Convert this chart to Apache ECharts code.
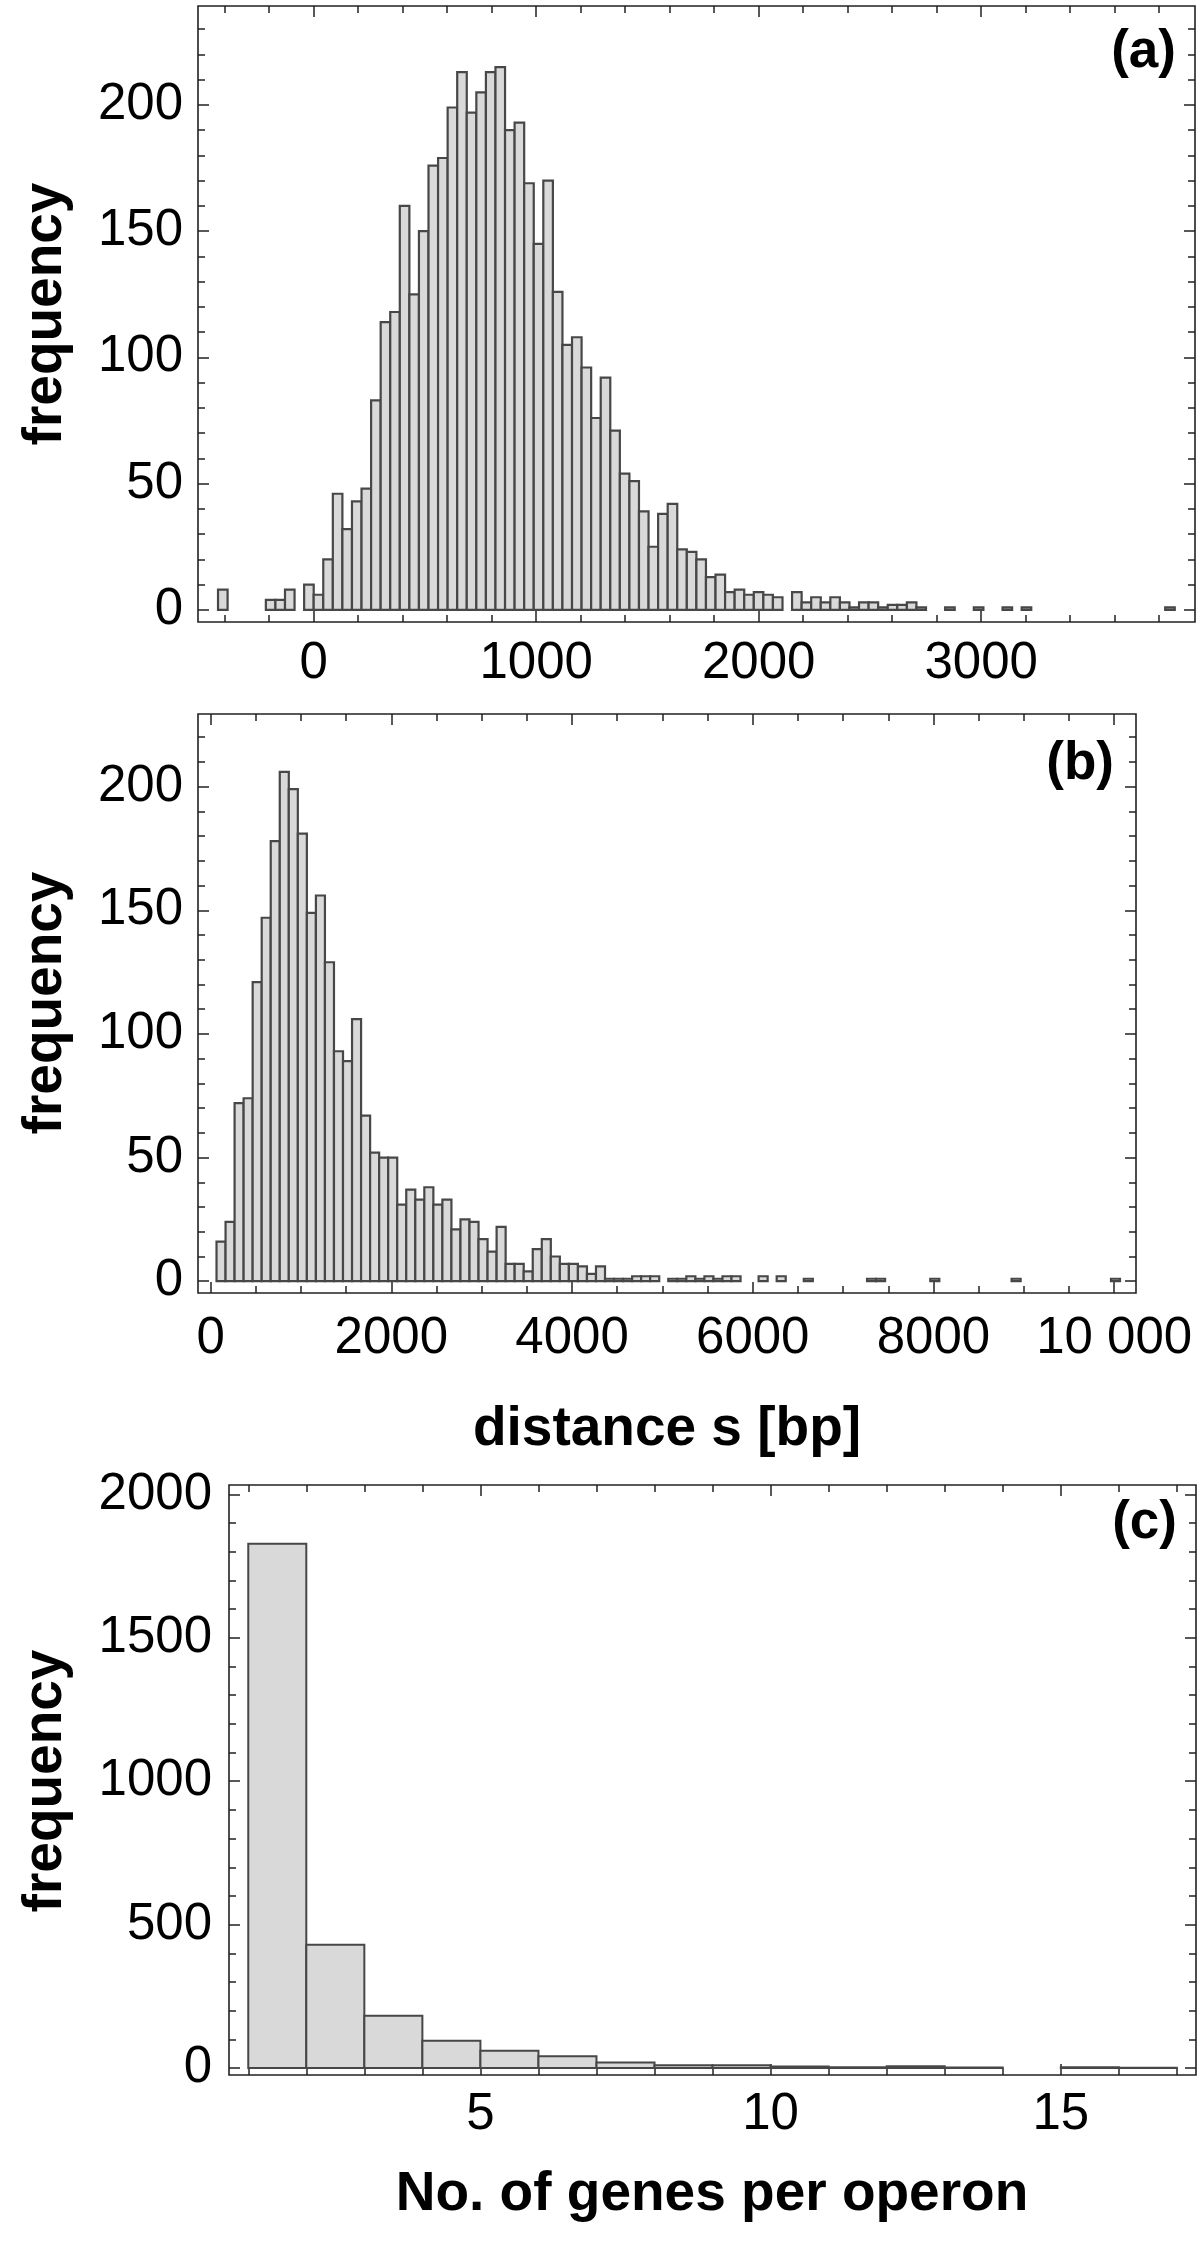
<!DOCTYPE html>
<html><head><meta charset="utf-8">
<script src="https://cdn.jsdelivr.net/npm/echarts@6/dist/echarts.min.js"></script>
<style>html,body{margin:0;padding:0;background:#fff}#c{width:1200px;height:2247px}</style>
</head><body><div id="c"></div>
<script>
// ---------- Panel (a): histogram, bin width 43, first bin starts at -430 ----------
const binStartA = -430;
const binWidthA = 43;
const countsA = [
  8, 0, 0, 0, 0, 4, 4, 8, 0, 10,
  6, 20, 46, 32, 43, 48, 83, 114, 118, 160,
  125, 150, 176, 179, 199, 213, 197, 205, 213, 215,
  190, 193, 169, 145, 170, 126, 105, 108, 96, 76,
  92, 71, 54, 51, 39, 25, 38, 42, 24, 23,
  20, 13, 14, 7, 8, 6, 7, 6, 5, 0,
  7, 3, 5, 3, 5, 3, 1, 3, 3, 1,
  2, 2, 3, 1, 0, 0, 1, 0, 0, 1,
  0, 0, 1, 0, 1, 0, 0, 0, 0, 0,
  0, 0, 0, 0, 0, 0, 0, 0, 0, 1
];
const xMajorA = [0, 1000, 2000, 3000];
const xMinorA = [-400, -200, 200, 400, 600, 800, 1200, 1400, 1600, 1800, 2200, 2400, 2600, 2800, 3200, 3400, 3600, 3800];
const yMajorA = [0, 50, 100, 150, 200];
const yMinorA = [10, 20, 30, 40, 60, 70, 80, 90, 110, 120, 130, 140, 160, 170, 180, 190, 210, 220, 230];

// ---------- Panel (b): histogram, bin width 100, first bin starts at 65 ----------
const binStartB = 65;
const binWidthB = 100;
const countsB = [
  16, 24, 72, 74, 121, 147, 178, 206, 199, 181,
  149, 156, 129, 93, 89, 106, 67, 52, 50, 50,
  31, 37, 33, 38, 31, 33, 21, 25, 24, 17,
  12, 22, 7, 7, 4, 13, 17, 10, 7, 7,
  6, 3, 6, 1, 1, 1, 2, 2, 2, 0,
  1, 1, 2, 1, 2, 1, 2, 2, 0, 0,
  2, 0, 2, 0, 0, 1, 0, 0, 0, 0,
  0, 0, 1, 1, 0, 0, 0, 0, 0, 1,
  0, 0, 0, 0, 0, 0, 0, 0, 1, 0,
  0, 0, 0, 0, 0, 0, 0, 0, 0, 1
];
const xMajorB = [0, 2000, 4000, 6000, 8000, 10000];
const xMinorB = [500, 1000, 1500, 2500, 3000, 3500, 4500, 5000, 5500, 6500, 7000, 7500, 8500, 9000, 9500];
const yMajorB = [0, 50, 100, 150, 200];
const yMinorB = [10, 20, 30, 40, 60, 70, 80, 90, 110, 120, 130, 140, 160, 170, 180, 190, 210, 220];

// ---------- Panel (c): genes per operon, bin width 1 starting at 1 ----------
const binStartC = 1;
const binWidthC = 1;
const countsC = [1828, 430, 182, 95, 60, 41, 19, 10, 10, 5, 3, 6, 2, 0, 3, 1];
const xMajorC = [5, 10, 15];
const xMinorC = [1, 2, 3, 4, 6, 7, 8, 9, 11, 12, 13, 14, 16, 17];
const yMajorC = [0, 500, 1000, 1500, 2000];
const yMinorC = [100, 200, 300, 400, 600, 700, 800, 900, 1100, 1200, 1300, 1400, 1600, 1700, 1800, 1900];

// ---------- texts ----------
const yTitle = 'frequency';
const xTitleB = 'distance s [bp]';
const xTitleC = 'No. of genes per operon';
const panelLabels = ['(a)', '(b)', '(c)'];

const FONT = '"Liberation Sans", Arial, Helvetica, sans-serif';
const TICK = '#222';
const plain = v => String(v);

function bins(start, width, counts) {
  const out = [];
  counts.forEach((c, i) => {
    if (c > 0) out.push([start + i * width, start + (i + 1) * width, c]);
  });
  return out;
}

function tk(vals, len) {
  return { show: true, inside: true, length: len, customValues: vals, lineStyle: { color: TICK, width: 1.5 } };
}
function xAxesFor(g, min, max, major, minor, margin, fmt) {
  const base = { type: 'value', gridIndex: g, min: min, max: max, axisLine: { show: false, onZero: false }, splitLine: { show: false } };
  return [
    Object.assign({}, base, { position: 'bottom', axisTick: tk(major, 11),
      axisLabel: { show: true, customValues: major, margin: margin, fontSize: 51, color: '#000', fontFamily: FONT, formatter: fmt || plain } }),
    Object.assign({}, base, { position: 'bottom', axisTick: tk(minor, 7), axisLabel: { show: false } }),
    Object.assign({}, base, { position: 'top', axisTick: tk(major, 11), axisLabel: { show: false } }),
    Object.assign({}, base, { position: 'top', axisTick: tk(minor, 7), axisLabel: { show: false } })
  ];
}
function yAxesFor(g, min, max, major, minor, margin) {
  const base = { type: 'value', gridIndex: g, min: min, max: max, axisLine: { show: false, onZero: false }, splitLine: { show: false } };
  return [
    Object.assign({}, base, { position: 'left', axisTick: tk(major, 11),
      axisLabel: { show: true, customValues: major, margin: margin, fontSize: 51, color: '#000', fontFamily: FONT, formatter: plain } }),
    Object.assign({}, base, { position: 'left', axisTick: tk(minor, 7), axisLabel: { show: false } }),
    Object.assign({}, base, { position: 'right', axisTick: tk(major, 11), axisLabel: { show: false } }),
    Object.assign({}, base, { position: 'right', axisTick: tk(minor, 7), axisLabel: { show: false } })
  ];
}

function histSeries(idx, data, lw) {
  return {
    type: 'custom', xAxisIndex: idx * 4, yAxisIndex: idx * 4, data: data,
    encode: { x: [0, 1], y: 2 }, silent: true, animation: false,
    renderItem: function (params, api) {
      const x0 = api.value(0), x1 = api.value(1), c = api.value(2);
      const p0 = api.coord([x0, 0]);
      const p1 = api.coord([x1, c]);
      return {
        type: 'rect',
        shape: { x: p0[0], y: p1[1], width: p1[0] - p0[0], height: p0[1] - p1[1] },
        style: { fill: '#d9d9d9', stroke: '#474747', lineWidth: lw }
      };
    }
  };
}

const gridStyle = { show: true, borderColor: '#222', borderWidth: 1.6, backgroundColor: 'transparent', containLabel: false };

const option = {
  animation: false,
  backgroundColor: '#fff',
  grid: [
    Object.assign({ left: 198, top: 6, width: 997, height: 616 }, gridStyle),
    Object.assign({ left: 198, top: 714, width: 938, height: 579 }, gridStyle),
    Object.assign({ left: 229, top: 1485, width: 967, height: 590 }, gridStyle)
  ],
  xAxis: [].concat(
    xAxesFor(0, -520, 3961, xMajorA, xMinorA, 16),
    xAxesFor(1, -140, 10242, xMajorB, xMinorB, 20, v => (v === 10000 ? '10 000' : String(v))),
    xAxesFor(2, 0.668, 17.33, xMajorC, xMinorC, 14)
  ),
  yAxis: [].concat(
    yAxesFor(0, -4.8, 239.2, yMajorA, yMinorA, 15),
    yAxesFor(1, -4.77, 229.4, yMajorB, yMinorB, 15),
    yAxesFor(2, -24.4, 2033, yMajorC, yMinorC, 17)
  ),
  series: [
    histSeries(0, bins(binStartA, binWidthA, countsA), 2.2),
    histSeries(1, bins(binStartB, binWidthB, countsB), 2.2),
    histSeries(2, bins(binStartC, binWidthC, countsC), 2)
  ],
  graphic: [
    { type: 'text', x: 46, y: 314, rotation: Math.PI / 2, style: { text: yTitle, font: 'bold 55px ' + FONT, fill: '#000', align: 'center', verticalAlign: 'middle' } },
    { type: 'text', x: 46, y: 1003, rotation: Math.PI / 2, style: { text: yTitle, font: 'bold 55px ' + FONT, fill: '#000', align: 'center', verticalAlign: 'middle' } },
    { type: 'text', x: 46, y: 1781, rotation: Math.PI / 2, style: { text: yTitle, font: 'bold 55px ' + FONT, fill: '#000', align: 'center', verticalAlign: 'middle' } },
    { type: 'text', x: 667, y: 1430, style: { text: xTitleB, font: 'bold 55px ' + FONT, fill: '#000', align: 'center', verticalAlign: 'middle' } },
    { type: 'text', x: 712, y: 2195, style: { text: xTitleC, font: 'bold 55px ' + FONT, fill: '#000', align: 'center', verticalAlign: 'middle' } },
    { type: 'text', x: 1176, y: 52, style: { text: panelLabels[0], font: 'bold 53px ' + FONT, fill: '#000', align: 'right', verticalAlign: 'middle' } },
    { type: 'text', x: 1114, y: 764, style: { text: panelLabels[1], font: 'bold 53px ' + FONT, fill: '#000', align: 'right', verticalAlign: 'middle' } },
    { type: 'text', x: 1177, y: 1523, style: { text: panelLabels[2], font: 'bold 53px ' + FONT, fill: '#000', align: 'right', verticalAlign: 'middle' } }
  ]
};

const chart = echarts.init(document.getElementById('c'), null, { renderer: 'canvas' });
chart.setOption(option);
</script>
</body></html>
